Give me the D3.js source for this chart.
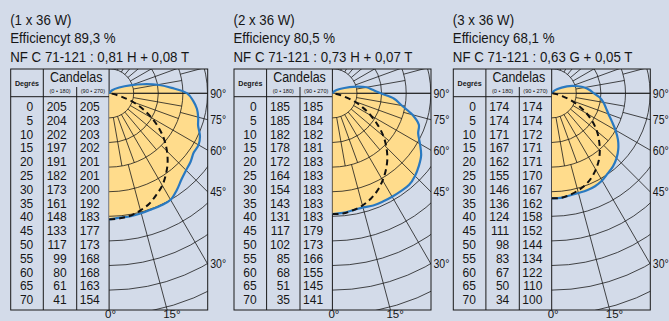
<!DOCTYPE html>
<html><head><meta charset="utf-8">
<script src="https://cdn.jsdelivr.net/npm/d3@7"></script>
<style>
html,body{margin:0;padding:0;background:#d3dbe9;}
svg{display:block;font-family:"Liberation Sans",Arial,Helvetica,sans-serif;}
</style></head><body>
<svg id="c" width="669" height="321"></svg>
<script>
// ---------- data ----------
const degrees = [0,5,10,15,20,25,30,35,40,45,50,55,60,65,70];
const titleLine1 = ["(1 x 36 W)", "(2 x 36 W)", "(3 x 36 W)"];
const titleLine2 = ["Efficiencyt 89,3 %", "Efficiency 80,5 %", "Efficiency 68,1 %"];
const titleLine3 = ["NF C 71-121 : 0,81 H + 0,08 T", "NF C 71-121 : 0,73 H + 0,07 T", "NF C 71-121 : 0,63 G + 0,05 T"];
const cd0_180_1  = [205,204,202,197,191,182,173,161,148,133,117,99,80,61,41];
const cd90_270_1 = [205,203,203,202,201,201,200,192,183,177,173,168,168,163,154];
const cd0_180_2  = [185,185,182,178,172,164,154,143,131,117,102,85,68,51,35];
const cd90_270_2 = [185,184,182,181,183,183,183,183,183,179,173,166,155,145,141];
const cd0_180_3  = [174,174,171,167,162,155,146,136,124,111,98,83,67,50,34];
const cd90_270_3 = [174,174,172,171,171,170,167,162,158,152,144,134,122,110,100];
// curve parts beyond the table
const extAngles90 = [75,80,85,90,95,100,105,110,120,135,180];
const ext90_270_1 = [150,145,137,127,102,80,57,39,19,7,0];
const ext90_270_2 = [127,108,95,74,62,53,40,28,13,5,0];
const ext90_270_3 = [93,87,80,70,63,55,45,36,19,7,0];
const extAngles0 = [75,80,85,90];
const ext0_180_1 = [20,8,2,0];
const ext0_180_2 = [18,8,3,0];
const ext0_180_3 = [18,8,3,0];
const rightLabels = [90,75,60,45,30];
const bottomLabels = [0,15];

// ---------- layout ----------
const panelX = [10.7, 234, 453.3];
const R200 = [123, 130.5, 120.7];   // px radius of 200 cd per panel
const topY = 69, bottomY = 310, headY = 96.7;
const colX = [0, 32.6, 66, 98.4, 197];
const cy = 93.3, ring = 24.6;
const lineCol = "#1b1b1b";

const panels = [
  {t:[titleLine1[0],titleLine2[0],titleLine3[0]], a:cd0_180_1, b:cd90_270_1, ea:ext0_180_1, eb:ext90_270_1},
  {t:[titleLine1[1],titleLine2[1],titleLine3[1]], a:cd0_180_2, b:cd90_270_2, ea:ext0_180_2, eb:ext90_270_2},
  {t:[titleLine1[2],titleLine2[2],titleLine3[2]], a:cd0_180_3, b:cd90_270_3, ea:ext0_180_3, eb:ext90_270_3}
];

const svg = d3.select("#c");
const defs = svg.append("defs");
const rad = d => d*Math.PI/180;

function stext(g, x, y, s, size, sx, opts={}) {
  const t = g.append("text").attr("transform", `translate(${x},${y}) scale(${sx},1)`)
    .attr("font-size", size).attr("fill", "#161616").text(s);
  if (opts.anchor) t.attr("text-anchor", opts.anchor);
  if (opts.weight) t.attr("font-weight", opts.weight);
  return t;
}

panels.forEach((P, p) => {
  const g = svg.append("g").attr("transform", `translate(${panelX[p]},0)`);
  const ty = d3.scaleLinear().domain([0,2]).range([24.8, 61.9]);
  P.t.forEach((s,i) => stext(g, -0.5, ty(i), s, 14, 0.95));

  const cx = colX[3], W = colX[4]-colX[3];
  const r = d3.scaleLinear().domain([0,200]).range([0,R200[p]]);

  defs.append("clipPath").attr("id","clip"+p).append("rect")
    .attr("x", panelX[p]+cx).attr("y", topY).attr("width", W).attr("height", bottomY-topY);

  const pg = svg.append("g").attr("clip-path", `url(#clip${p})`)
    .append("g").attr("transform", `translate(${panelX[p]+cx},${cy})`);

  const ptsB = degrees.map((d,i)=>({a:d, v:P.b[i]})).concat(extAngles90.map((d,i)=>({a:d, v:P.eb[i]})));
  const ptsA = degrees.map((d,i)=>({a:d, v:P.a[i]})).concat(extAngles0.map((d,i)=>({a:d, v:P.ea[i]})));
  const lr = d3.lineRadial().angle(d => Math.PI - rad(d.a)).radius(d => r(d.v)).curve(d3.curveCatmullRom.alpha(0.5));

  pg.append("path").attr("d", lr(ptsB) + "Z").attr("fill", "#ffdc8c").attr("stroke","none");

  const rings = d3.range(1,10);
  pg.selectAll("circle.ring").data(rings).enter().append("circle")
    .attr("r", k => k*ring).attr("fill","none").attr("stroke",lineCol).attr("stroke-width",0.8);
  const inner = d3.range(10,180,10);
  pg.selectAll("line.in").data(inner).enter().append("line")
    .attr("x1", d => ring*Math.sin(rad(d))).attr("y1", d => ring*Math.cos(rad(d)))
    .attr("x2", d => 3*ring*Math.sin(rad(d))).attr("y2", d => 3*ring*Math.cos(rad(d)))
    .attr("stroke",lineCol).attr("stroke-width",0.8);
  const outer = d3.range(15,180,15);
  pg.selectAll("line.out").data(outer).enter().append("line")
    .attr("x1", d => 3*ring*Math.sin(rad(d))).attr("y1", d => 3*ring*Math.cos(rad(d)))
    .attr("x2", d => 320*Math.sin(rad(d))).attr("y2", d => 320*Math.cos(rad(d)))
    .attr("stroke",lineCol).attr("stroke-width",0.8);
  pg.append("line").attr("x1",0).attr("y1",0).attr("x2",W).attr("y2",0)
    .attr("stroke",lineCol).attr("stroke-width",0.9);

  pg.append("path").attr("d", lr(ptsB)).attr("fill","none").attr("stroke","#2a79c0").attr("stroke-width",2.2);
  pg.append("path").attr("d", lr(ptsA)).attr("fill","none").attr("stroke","#111").attr("stroke-width",2)
    .attr("stroke-dasharray","6,4");

  const fr = g.append("g").attr("stroke","#1a1a1a").attr("stroke-width",1).attr("fill","none");
  fr.append("rect").attr("x",colX[0]).attr("y",topY).attr("width",colX[4]-colX[0]).attr("height",bottomY-topY);
  fr.append("line").attr("x1",colX[1]).attr("x2",colX[1]).attr("y1",topY).attr("y2",bottomY);
  fr.append("line").attr("x1",colX[2]).attr("x2",colX[2]).attr("y1",87).attr("y2",bottomY);
  fr.append("line").attr("x1",colX[3]).attr("x2",colX[3]).attr("y1",topY).attr("y2",bottomY);
  fr.append("line").attr("x1",colX[0]).attr("x2",colX[3]).attr("y1",headY).attr("y2",headY);

  stext(g, (colX[0]+colX[1])/2, 85.5, "Degrés", 7.5, 0.95, {anchor:"middle", weight:"bold"});
  stext(g, (colX[1]+colX[3])/2, 82, "Candelas", 14, 0.89, {anchor:"middle"});
  stext(g, (colX[1]+colX[2])/2, 92.6, "(0 • 180)", 5.6, 1, {anchor:"middle"});
  stext(g, (colX[2]+colX[3])/2, 92.6, "(90 • 270)", 5.6, 1, {anchor:"middle"});

  const ry = d3.scaleLinear().domain([0,70]).range([111, 304.2]);
  degrees.forEach((d,i) => {
    stext(g, colX[1]-10, ry(d), String(d), 12, 1, {anchor:"end"});
    stext(g, colX[2]-10, ry(d), String(P.a[i]), 12, 1, {anchor:"end"});
    stext(g, colX[3]-9.3, ry(d), String(P.b[i]), 12, 1, {anchor:"end"});
  });

  rightLabels.forEach(a => {
    const ye = a === 90 ? cy : cy + W/Math.tan(rad(a));
    stext(g, colX[4]+2.5, ye+4.3, a+"°", 12, 0.88);
  });
  bottomLabels.forEach(a => {
    const xx = cx + (bottomY-cy)*Math.tan(rad(a));
    stext(g, xx-4, 318, a+"°", 11.5, 1);
  });
});
</script>
</body></html>
